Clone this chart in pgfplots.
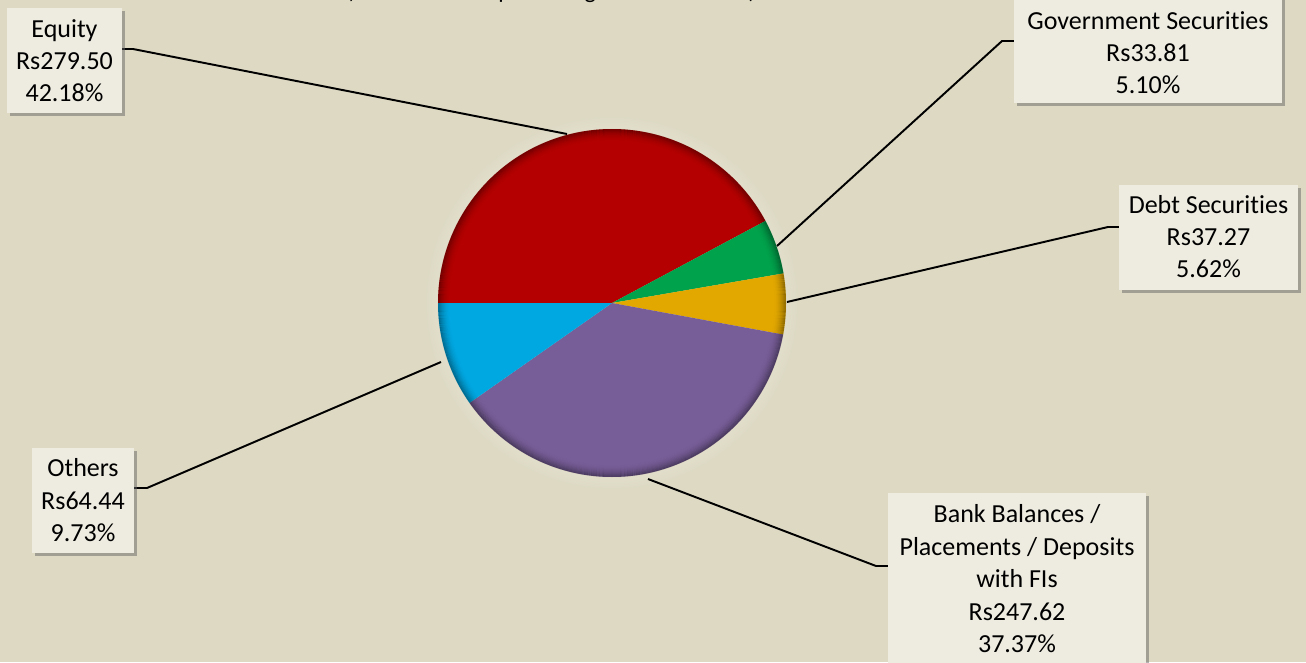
\documentclass[border=0pt]{standalone}
\usepackage{fontspec}
\setmainfont{Carlito}[Ligatures=NoCommon]
\usepackage{pgfplots}
\pgfplotsset{compat=1.18}
\usetikzlibrary{shadows}
\definecolor{bgc}{HTML}{DDD9C3}
\definecolor{boxc}{HTML}{EEECE1}
\definecolor{cRed}{HTML}{B40000}
\definecolor{cGreen}{HTML}{00A24C}
\definecolor{cGold}{HTML}{E2A800}
\definecolor{cPurple}{HTML}{785E98}
\definecolor{cBlue}{HTML}{00A8E2}
% data: share of total assets (%)
\def\pEq{42.18}
\def\pGov{5.10}
\def\pDebt{5.62}
\def\pBank{37.37}
\def\pOth{9.73}
\newcommand\bxfont{\fontsize{19.5}{24}\selectfont}
\begin{document}
\begin{tikzpicture}
\pgfmathsetmacro\aA{180}
\pgfmathsetmacro\aB{\aA-3.6*\pEq}
\pgfmathsetmacro\aC{\aB-3.6*\pGov}
\pgfmathsetmacro\aD{\aC-3.6*\pDebt}
\pgfmathsetmacro\aE{\aD-3.6*\pBank}
\pgfmathsetmacro\aF{\aE-3.6*\pOth}
\useasboundingbox (0,0) rectangle (979.5pt,496.5pt);
\fill[bgc] (0,0) rectangle (979.5pt,496.5pt);
% soft halo around the pie
\foreach \i in {1,...,9} {
  \pgfmathsetmacro\op{0.14*(1-\i/10)}
  \draw[white, opacity=\op, line width=1.1pt] (459pt,269.25pt) circle[radius={130.5pt+\i*1.1pt}];
}
\begin{axis}[at={(0,0)}, anchor=south west, width=979.5pt, height=496.5pt,
  scale only axis, hide axis, clip=false,
  xmin=0, xmax=1306, ymin=0, ymax=662]
 % pie wedges
 \addplot[fill=cRed, draw=none, domain=\aB:\aA, samples=120] ({612+174*cos(x)},{359+174*sin(x)}) -- (axis cs:612,359) -- cycle;
 \addplot[fill=cGreen, draw=none, domain=\aC:\aB, samples=30] ({612+174*cos(x)},{359+174*sin(x)}) -- (axis cs:612,359) -- cycle;
 \addplot[fill=cGold, draw=none, domain=\aD:\aC, samples=30] ({612+174*cos(x)},{359+174*sin(x)}) -- (axis cs:612,359) -- cycle;
 \addplot[fill=cPurple, draw=none, domain=\aE:\aD, samples=120] ({612+174*cos(x)},{359+174*sin(x)}) -- (axis cs:612,359) -- cycle;
 \addplot[fill=cBlue, draw=none, domain=\aF:\aE, samples=40] ({612+174*cos(x)},{359+174*sin(x)}) -- (axis cs:612,359) -- cycle;
 % leader lines
 \draw[line width=1.45pt] (axis cs:122,613) -- (axis cs:133,613) -- (axis cs:567,528);
 \draw[line width=1.45pt] (axis cs:1014,621) -- (axis cs:1002,621) -- (axis cs:777,416);
 \draw[line width=1.45pt] (axis cs:1119,435) -- (axis cs:1108,435) -- (axis cs:787,360);
 \draw[line width=1.45pt] (axis cs:134,174) -- (axis cs:147,174) -- (axis cs:441,300);
 \draw[line width=1.45pt] (axis cs:888,96) -- (axis cs:876,96) -- (axis cs:648,183);
 % label boxes
 \path[fill=boxc, drop shadow={shadow xshift=2.5pt, shadow yshift=-2.5pt, opacity=0.5, fill=black!60}] (axis cs:7,549) rectangle (axis cs:122,654);
 \path[fill=boxc, drop shadow={shadow xshift=2.5pt, shadow yshift=-2.5pt, opacity=0.5, fill=black!60}] (axis cs:1014,559) rectangle (axis cs:1282,666);
 \path[fill=boxc, drop shadow={shadow xshift=2.5pt, shadow yshift=-2.5pt, opacity=0.5, fill=black!60}] (axis cs:1119,372) rectangle (axis cs:1298,477);
 \path[fill=boxc, drop shadow={shadow xshift=2.5pt, shadow yshift=-2.5pt, opacity=0.5, fill=black!60}] (axis cs:32,109) rectangle (axis cs:134,214);
 \path[fill=boxc, drop shadow={shadow xshift=2.5pt, shadow yshift=-2.5pt, opacity=0.5, fill=black!60}] (axis cs:888,-40) rectangle (axis cs:1146,169);
 % label texts
 \node[anchor=base, font=\bxfont] at (axis cs:64.5,624) {Equity};
 \node[anchor=base, font=\bxfont] at (axis cs:64.5,592) {Rs279.50};
 \node[anchor=base, font=\bxfont] at (axis cs:64.5,560) {42.18\%};
 \node[anchor=base, font=\bxfont] at (axis cs:1148,632) {Government Securities};
 \node[anchor=base, font=\bxfont] at (axis cs:1148,600) {Rs33.81};
 \node[anchor=base, font=\bxfont] at (axis cs:1148,568) {5.10\%};
 \node[anchor=base, font=\bxfont] at (axis cs:1208.5,449) {Debt Securities};
 \node[anchor=base, font=\bxfont] at (axis cs:1208.5,417) {Rs37.27};
 \node[anchor=base, font=\bxfont] at (axis cs:1208.5,385) {5.62\%};
 \node[anchor=base, font=\bxfont] at (axis cs:83,186) {Others};
 \node[anchor=base, font=\bxfont] at (axis cs:83,153) {Rs64.44};
 \node[anchor=base, font=\bxfont] at (axis cs:83,121) {9.73\%};
 \node[anchor=base, font=\bxfont] at (axis cs:1017,140) {Bank Balances /};
 \node[anchor=base, font=\bxfont] at (axis cs:1017,107) {Placements / Deposits};
 \node[anchor=base, font=\bxfont] at (axis cs:1017,75) {with FIs};
 \node[anchor=base, font=\bxfont] at (axis cs:1017,42) {Rs247.62};
 \node[anchor=base, font=\bxfont] at (axis cs:1017,10) {37.37\%};
 % title (cut at the top edge, as in the reference)
 \node[anchor=base, font=\fontsize{18}{22}\selectfont] at (axis cs:551,663) {(Rs in million \& percentage of total assets)};
\end{axis}
% rim shading of the pie
\foreach \i in {0,...,11} {
  \pgfmathsetmacro\op{0.32*(1-\i/12)^2}
  \draw[black, opacity=\op, line width=0.8pt] (459pt,269.25pt) circle[radius={130.5pt-\i*0.75pt-0.4pt}];
}
\end{tikzpicture}
\end{document}
